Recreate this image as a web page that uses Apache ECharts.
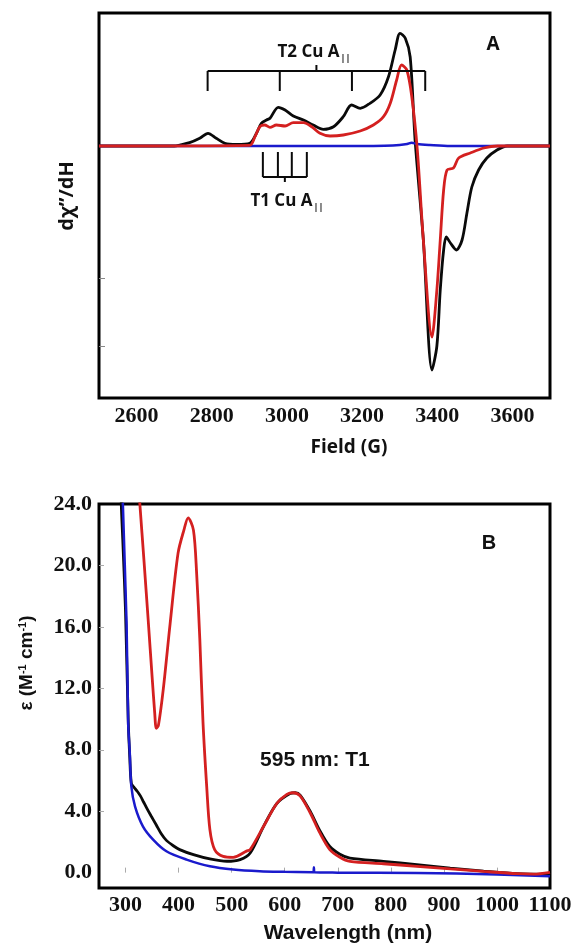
<!DOCTYPE html>
<html>
<head>
<meta charset="utf-8">
<script src="https://cdn.jsdelivr.net/npm/echarts@6/dist/echarts.min.js"></script>
<style>
html,body{margin:0;padding:0;background:#fff;}
#chart{width:579px;height:947px;}
</style>
</head>
<body>
<div id="chart"></div>
<script>
// ---------- Panel A: EPR (field in G, derivative signal in arbitrary units) ----------
var eprTickLabels = [2600, 2800, 3000, 3200, 3400, 3600];
var blackField = [2500, 2700, 2715, 2741, 2768, 2790, 2812, 2835, 2866, 2901, 2919, 2932, 2946, 2955, 2977, 2995, 3017, 3044, 3070, 3097, 3124, 3150, 3172, 3195, 3221, 3248, 3270, 3288, 3301, 3315, 3328, 3341, 3363, 3386, 3399, 3408, 3417, 3424, 3435, 3451, 3466, 3479, 3492, 3510, 3532, 3559, 3586, 3700];
var blackSignal = [0, 0, 1, 3.3, 7.7, 12.7, 7.7, 2.7, 1.7, 2.7, 12.7, 22.7, 26, 27.7, 38.7, 36, 30, 26, 21, 16.7, 19.3, 29.3, 41, 37.7, 42.7, 51, 69, 96, 112.7, 107.7, 89, 6, -94, -224, -200, -144, -104, -91, -97, -104, -94, -67, -41, -24, -12, -4, 0, 0];
var redField = [2500, 2901, 2915, 2928, 2941, 2955, 2972, 2995, 3017, 3044, 3066, 3088, 3115, 3150, 3195, 3230, 3257, 3275, 3292, 3305, 3319, 3332, 3347, 3363, 3386, 3399, 3408, 3417, 3426, 3443, 3457, 3488, 3524, 3560, 3700];
var redSignal = [0, 0.7, 9.3, 19.3, 21, 18.7, 21, 20, 23.3, 23.3, 19.3, 12.7, 10, 11, 15, 21, 29.3, 42.7, 66, 81, 76, 50, -4, -94, -191, -144, -94, -44, -24, -22, -12, -7, -2, 0, 0];
var blueField = [2500, 3200, 3260, 3300, 3320, 3332, 3346, 3380, 3435, 3500, 3700];
var blueSignal = [0, 0, 0.3, 1, 2, 3.3, 2, 1, 0, 0, 0];
var eprYTicks = [-200, -132];
// hyperfine stick diagrams
var t2Field = [2789, 2981, 3173, 3368];
var t1Field = [2936, 2976, 3013, 3053];

// ---------- Panel B: UV-vis ----------
var uvTickLabels = [300, 400, 500, 600, 700, 800, 900, 1000, 1100];
var uvYLabels = [0, 4, 8, 12, 16, 20, 24];
var blackWl = [288, 292, 295, 300, 305, 308, 311, 316, 322, 328, 334, 340, 348, 358, 367, 377, 390, 402, 428, 459, 491, 516, 535, 560, 585, 610, 620, 629, 648, 666, 685, 704, 723, 786, 849, 912, 975, 1038, 1100];
var blackEps = [30, 24, 21.5, 17, 10, 7.5, 5.8, 5.55, 5.3, 5.0, 4.6, 4.2, 3.7, 3.1, 2.55, 2.1, 1.75, 1.5, 1.17, 0.89, 0.74, 0.85, 1.28, 3.0, 4.5, 5.15, 5.2, 5.05, 4.0, 2.75, 1.7, 1.2, 0.95, 0.74, 0.52, 0.3, 0.1, -0.07, -0.12];
var redWl = [318, 327, 335, 343, 350, 355, 358, 362, 371, 384, 399, 410, 418, 428, 434, 440, 446, 453, 459, 468, 484, 503, 528, 535, 560, 585, 604, 616, 629, 648, 666, 685, 704, 723, 786, 849, 912, 975, 1038, 1069, 1100];
var redEps = [28.4, 24, 20.2, 16.3, 12.8, 10.4, 9.4, 9.6, 11.9, 16.2, 20.8, 22.3, 23.1, 22.3, 19.5, 15.2, 9.8, 5.6, 2.8, 1.5, 1.06, 1.0, 1.4, 1.5, 3.0, 4.5, 5.1, 5.2, 5.0, 3.9, 2.6, 1.5, 1.0, 0.73, 0.58, 0.41, 0.24, 0.08, -0.07, -0.1, 0.02];
var blueWl = [290, 295, 302, 305, 308, 311, 318, 333, 352, 377, 415, 459, 503, 553, 600, 654, 655, 656, 700, 849, 1000, 1100];
var blueEps = [32, 24, 16.2, 9.7, 7.8, 5.6, 4.3, 3.0, 2.15, 1.39, 0.85, 0.41, 0.2, 0.09, 0.05, 0.02, 0.35, 0.02, 0.0, -0.02, -0.12, -0.24];
var uvTicks = [300, 400, 500, 600, 700, 800, 900, 1000];
var uvYTicks = [4, 8, 12, 16, 20];

function zip(a, b) { return a.map(function (v, i) { return [v, b[i]]; }); }

var BLACK = '#0a0a0a', RED = '#d42020', BLUE = '#1a1acc';
var tickFont = { fontFamily: 'Liberation Serif', fontWeight: 'bold', fontSize: 22, color: '#111' };

var series = [];
function curve(x, y, color, xi, z, w) {
  series.push({ type: 'line', xAxisIndex: xi, yAxisIndex: xi, data: zip(x, y), showSymbol: false, symbol: 'none',
    smooth: 0.3, lineStyle: { color: color, width: w }, z: z, silent: true });
}
curve(blackField, blackSignal, BLACK, 0, 2, 2.8);
curve(blueField, blueSignal, BLUE, 0, 3, 2.5);
curve(redField, redSignal, RED, 0, 4, 2.8);
curve(blackWl, blackEps, BLACK, 1, 2, 2.8);
curve(blueWl, blueEps, BLUE, 1, 3, 2.5);
curve(redWl, redEps, RED, 1, 4, 2.8);

function seg(p, q) {
  series.push({ type: 'line', xAxisIndex: 0, yAxisIndex: 0, data: [p, q], showSymbol: false, symbol: 'none',
    lineStyle: { color: BLACK, width: 2 }, z: 5, silent: true });
}
// T2 bracket: bar above, legs down
var t2Bar = 75, t2Leg = 55, t2Stem = 81;
seg([t2Field[0], t2Bar], [t2Field[t2Field.length - 1], t2Bar]);
t2Field.forEach(function (f) { seg([f, t2Bar], [f, t2Leg]); });
var t2Mid = (t2Field[0] + t2Field[t2Field.length - 1]) / 2;
seg([t2Mid, t2Bar], [t2Mid, t2Stem]);
// T1 bracket: bar below, legs up
var t1Bar = -31, t1Leg = -6, t1Stem = -36;
seg([t1Field[0], t1Bar], [t1Field[t1Field.length - 1], t1Bar]);
t1Field.forEach(function (f) { seg([f, t1Bar], [f, t1Leg]); });
var t1Mid = (t1Field[0] + t1Field[t1Field.length - 1]) / 2;
seg([t1Mid, t1Bar], [t1Mid, t1Stem]);

var labRich = {
  a: { fontFamily: 'Open Sans', fontWeight: 'bold', fontSize: 17, color: '#111', lineHeight: 22, verticalAlign: 'middle' },
  s: { fontFamily: 'Open Sans', fontWeight: 'bold', fontSize: 9, color: '#111', lineHeight: 22, padding: [12, 0, 0, 1], verticalAlign: 'middle' }
};
function annot(xi, x, y, text, rich) {
  series.push({ type: 'scatter', xAxisIndex: xi, yAxisIndex: xi, symbolSize: 0, silent: true, z: 6,
    itemStyle: { opacity: 1 },
    data: [[x, y]], label: { show: true, position: 'inside', formatter: text, rich: rich, color: '#111', opacity: 1,
      textBorderWidth: 0 } });
}
annot(0, 3072, 94, '{a|T2 Cu A}{s|||}', labRich);
annot(0, 3000, -55, '{a|T1 Cu A}{s|||}', labRich);
annot(1, 657, 7.3, '{b|595 nm: T1}', { b: { fontFamily: 'Liberation Sans', fontWeight: 'bold', fontSize: 21, color: '#111' } });

function plain(v) { return String(v); }

var option = {
  animation: false,
  backgroundColor: '#fff',
  grid: [
    { left: 99, top: 13, width: 451, height: 385, show: true, borderColor: '#000', borderWidth: 3, backgroundColor: 'transparent' },
    { left: 99, top: 504, width: 451, height: 384, show: true, borderColor: '#000', borderWidth: 3, backgroundColor: 'transparent' }
  ],
  xAxis: [
    { type: 'value', gridIndex: 0, min: 2500, max: 3700, axisLine: { show: false }, splitLine: { show: false },
      axisTick: { show: false },
      axisLabel: Object.assign({ margin: 7, customValues: eprTickLabels, formatter: plain }, tickFont) },
    { type: 'value', gridIndex: 1, min: 250, max: 1100, axisLine: { show: false }, splitLine: { show: false },
      axisTick: { show: true, inside: true, length: 5, customValues: uvTicks, lineStyle: { color: '#aaa', width: 1 } },
      axisLabel: Object.assign({ margin: 6, customValues: uvTickLabels, formatter: plain }, tickFont) }
  ],
  yAxis: [
    { type: 'value', gridIndex: 0, min: -252, max: 133, axisLine: { show: false }, splitLine: { show: false },
      axisTick: { show: true, inside: true, length: 6, customValues: eprYTicks, lineStyle: { color: '#888', width: 1 } },
      axisLabel: { show: false } },
    { type: 'value', gridIndex: 1, min: -1, max: 24, axisLine: { show: false }, splitLine: { show: false },
      axisTick: { show: true, inside: true, length: 5, customValues: uvYTicks, lineStyle: { color: '#aaa', width: 1 } },
      axisLabel: Object.assign({ margin: 7, customValues: uvYLabels, formatter: function (v) { return v.toFixed(1); } }, tickFont) }
  ],
  graphic: [
    { type: 'text', x: 493, y: 45, style: { text: 'A', font: 'bold 19px "Open Sans"', fill: '#111', align: 'center', verticalAlign: 'middle' } },
    { type: 'text', x: 349, y: 448, style: { text: 'Field (G)', font: 'bold 19px "Open Sans"', fill: '#111', align: 'center', verticalAlign: 'middle' } },
    { type: 'text', x: 67, y: 196, rotation: Math.PI / 2, style: { text: 'dχ\u2019\u2019/dH', font: 'bold 20px "Open Sans"', fill: '#111', align: 'center', verticalAlign: 'middle' } },
    { type: 'text', x: 489, y: 543, style: { text: 'B', font: 'bold 20px "Liberation Sans"', fill: '#111', align: 'center', verticalAlign: 'middle' } },
    { type: 'text', x: 348, y: 933, style: { text: 'Wavelength (nm)', font: 'bold 21px "Liberation Sans"', fill: '#111', align: 'center', verticalAlign: 'middle' } },
    { type: 'text', x: 27, y: 663, rotation: Math.PI / 2, style: {
        text: '{a|ε (M}{s|-1}{a| cm}{s|-1}{a|)}', align: 'center', verticalAlign: 'middle',
        rich: {
          a: { fontFamily: 'Liberation Sans', fontWeight: 'bold', fontSize: 19, fill: '#111', lineHeight: 22, verticalAlign: 'middle' },
          s: { fontFamily: 'Liberation Sans', fontWeight: 'bold', fontSize: 11, fill: '#111', lineHeight: 22, padding: [0, 0, 9, 0], verticalAlign: 'middle' }
        } } }
  ],
  series: series
};

var chart = echarts.init(document.getElementById('chart'), null, { renderer: 'canvas' });
chart.setOption(option);
</script>
</body>
</html>
